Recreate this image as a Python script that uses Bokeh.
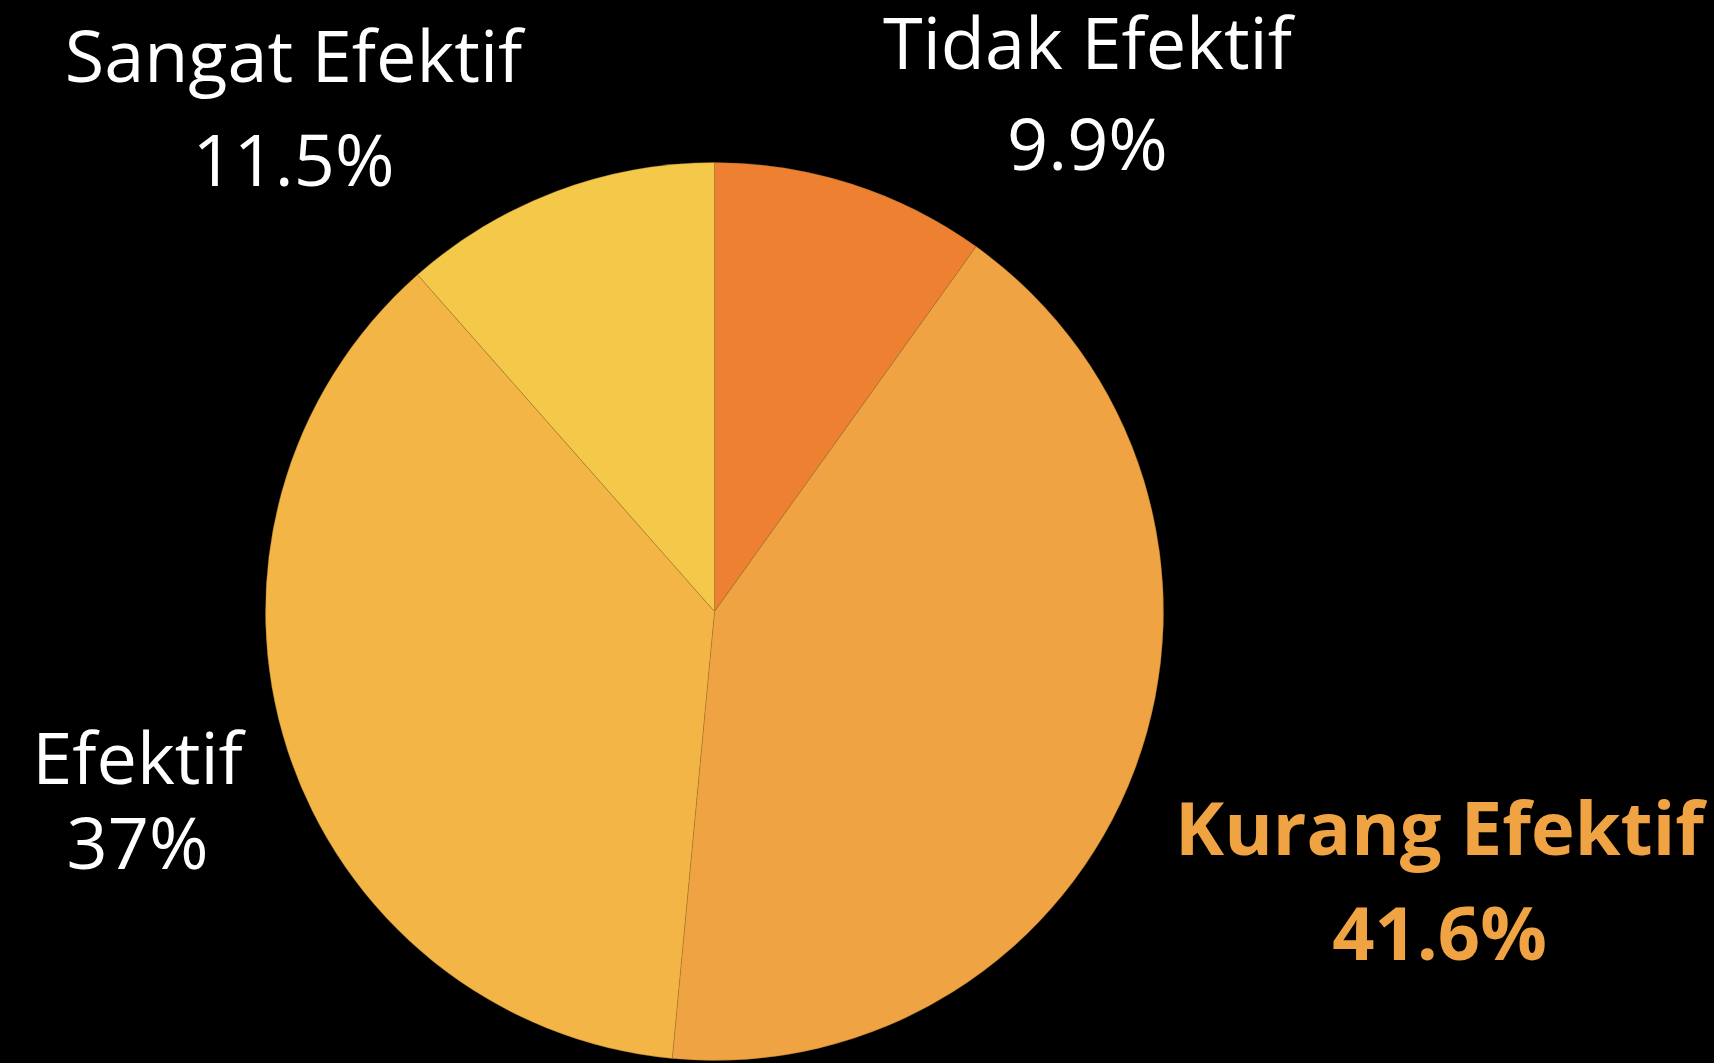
from bokeh.plotting import figure
from bokeh.models import Range1d, ColumnDataSource
from bokeh.embed import file_html
from bokeh.resources import INLINE
from bokeh.core.properties import value
import math

# Data
categories = ["Tidak Efektif", "Kurang Efektif", "Efektif", "Sangat Efektif"]
percents = [9.9, 41.6, 37.0, 11.5]
pct_labels = ["9.9%", "41.6%", "37%", "11.5%"]
colors = ["#EE8032", "#F0A342", "#F3B545", "#F4C94A"]
label_colors = ["#FFFFFF", "#F0A342", "#FFFFFF", "#FFFFFF"]
label_styles = ["normal", "bold", "normal", "normal"]

W, H = 1714, 1063

def yd(y):
    return H - y

p = figure(width=W, height=H, output_backend="svg", toolbar_location=None,
           x_range=Range1d(0, W), y_range=Range1d(0, H),
           min_border=0, background_fill_color="black", border_fill_color="black")
p.outline_line_color = None
p.axis.visible = False
p.grid.visible = False

# wedges
total = sum(percents)
starts, ends = [], []
cum = 0.0
for v in percents:
    starts.append(math.pi / 2 - 2 * math.pi * cum / total)
    cum += v
    ends.append(math.pi / 2 - 2 * math.pi * cum / total)

cx, cy, r = 714, 611, 449
src = ColumnDataSource(dict(start=starts, end=ends, color=colors,
                            x=[cx] * 4, y=[yd(cy)] * 4))
p.wedge(x="x", y="y", radius=r, radius_units="screen", start_angle="start",
        end_angle="end", direction="clock", fill_color="color",
        line_color="#9a7430", line_width=0.6, line_alpha=0.6, source=src)

# labels: (center x, baseline y of name, baseline y of pct)
label_pos = [(1087, 72, 173), (1439, 859, 964), (137, 787, 872), (293, 85, 189)]
sizes = [72, 74, 72, 72]

for i, cat in enumerate(categories):
    x, y1, y2 = label_pos[i]
    fs = sizes[i]
    for txt, yy in ((cat, y1), (pct_labels[i], y2)):
        p.text(x=[x], y=[yd(yy - 0.44 * fs)], text=[txt], text_align="center",
               text_baseline="alphabetic", text_color=label_colors[i],
               text_font=value("Open Sans"), text_font_size=f"{fs}px",
               text_font_style=label_styles[i])

html = file_html(p, INLINE)
html = html.replace("</head>",
                    "<style>html, body { background: #000000; margin: 0; padding: 0; overflow: hidden; }</style></head>", 1)
open("out.html", "w").write(html)
